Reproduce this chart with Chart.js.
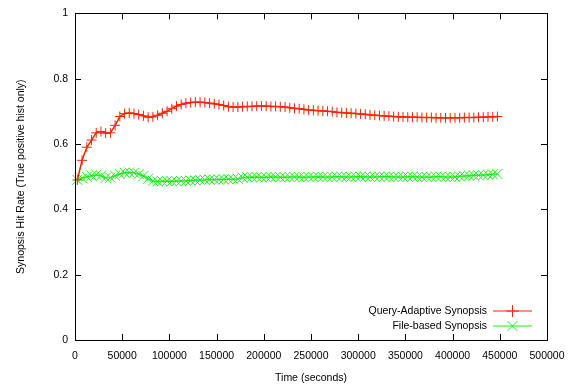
<!DOCTYPE html>
<html>
<head>
<meta charset="utf-8">
<script src="https://cdn.jsdelivr.net/npm/chart.js@4.4.0/dist/chart.umd.min.js"></script>
<style>
  body { margin: 0; background: #fff; }
  canvas { display: block; }
</style>
</head>
<body>
<canvas id="hit-chart" width="579" height="391"></canvas>
<script>
// sample times (seconds)
const times = [
    2500, 7500, 12500, 17500, 22500, 27500, 32500, 37500, 42500, 47500,
    52500, 57500, 62500, 67500, 72500, 77500, 82500, 87500, 92500, 97500,
    102500, 107500, 112500, 117500, 122500, 127500, 132500, 137500, 142500, 147500,
    152500, 157500, 162500, 167500, 172500, 177500, 182500, 187500, 192500, 197500,
    202500, 207500, 212500, 217500, 222500, 227500, 232500, 237500, 242500, 247500,
    252500, 257500, 262500, 267500, 272500, 277500, 282500, 287500, 292500, 297500,
    302500, 307500, 312500, 317500, 322500, 327500, 332500, 337500, 342500, 347500,
    352500, 357500, 362500, 367500, 372500, 377500, 382500, 387500, 392500, 397500,
    402500, 407500, 412500, 417500, 422500, 427500, 432500, 437500, 442500, 447500
];

const queryAdaptive = [
    0.490, 0.550, 0.590, 0.612, 0.634, 0.638, 0.633, 0.634, 0.657, 0.684,
    0.693, 0.695, 0.693, 0.690, 0.686, 0.682, 0.683, 0.688, 0.694, 0.700,
    0.708, 0.716, 0.721, 0.725, 0.727, 0.728, 0.728, 0.727, 0.725, 0.723,
    0.721, 0.718, 0.714, 0.713, 0.713, 0.714, 0.715, 0.715, 0.716, 0.716,
    0.716, 0.715, 0.715, 0.714, 0.713, 0.711, 0.709, 0.708, 0.706, 0.704,
    0.703, 0.702, 0.701, 0.700, 0.699, 0.697, 0.696, 0.695, 0.694, 0.693,
    0.692, 0.691, 0.689, 0.688, 0.687, 0.686, 0.685, 0.684, 0.683, 0.683,
    0.682, 0.682, 0.682, 0.681, 0.681, 0.681, 0.680, 0.680, 0.680, 0.680,
    0.680, 0.680, 0.681, 0.681, 0.681, 0.682, 0.682, 0.683, 0.683, 0.684
];

const fileBased = [
    0.490, 0.495, 0.500, 0.503, 0.506, 0.503, 0.496, 0.497, 0.503, 0.508,
    0.512, 0.513, 0.512, 0.508, 0.502, 0.494, 0.487, 0.485, 0.486, 0.487,
    0.486, 0.486, 0.487, 0.487, 0.488, 0.489, 0.490, 0.490, 0.491, 0.491,
    0.491, 0.492, 0.492, 0.492, 0.493, 0.497, 0.498, 0.498, 0.499, 0.498,
    0.498, 0.499, 0.499, 0.498, 0.498, 0.499, 0.499, 0.499, 0.498, 0.499,
    0.499, 0.500, 0.499, 0.499, 0.499, 0.500, 0.500, 0.499, 0.499, 0.500,
    0.500, 0.500, 0.499, 0.499, 0.500, 0.500, 0.500, 0.499, 0.499, 0.499,
    0.500, 0.500, 0.499, 0.499, 0.499, 0.499, 0.500, 0.500, 0.499, 0.499,
    0.499, 0.501, 0.502, 0.503, 0.504, 0.504, 0.505, 0.506, 0.507, 0.508
];

const seriesNames = ['Query-Adaptive Synopsis', 'File-based Synopsis'];
const xTicks = [0, 50000, 100000, 150000, 200000, 250000, 300000, 350000, 400000, 450000, 500000];
const yTicks = [0, 0.2, 0.4, 0.6, 0.8, 1];

const RED = '#ff2200';
const GREEN = '#1aee1a';
const FONT = '"Liberation Sans", Arial, Helvetica, sans-serif';
const FSIZE = 10.5;

function pts(vals) {
    return vals.map((v, i) => ({x: times[i], y: v}));
}

function marker(ctx, style, x, y, r) {
    ctx.beginPath();
    if (style === 'cross') {
        ctx.moveTo(x - r, y); ctx.lineTo(x + r, y);
        ctx.moveTo(x, y - r); ctx.lineTo(x, y + r);
    } else {
        const d = r * 0.7071;
        ctx.moveTo(x - d, y - d); ctx.lineTo(x + d, y + d);
        ctx.moveTo(x - d, y + d); ctx.lineTo(x + d, y - d);
    }
    ctx.stroke();
}

// gnuplot style frame, inward ticks on all sides, key in the lower right
const framePlugin = {
    id: 'frame',
    afterDraw(chart) {
        const ctx = chart.ctx;
        const a = chart.chartArea;
        const xs = chart.scales.x, ys = chart.scales.y;
        const tl = 6;
        ctx.save();
        ctx.strokeStyle = '#000';
        ctx.lineWidth = 1;
        ctx.strokeRect(Math.round(a.left) + 0.5, Math.round(a.top) + 0.5,
            Math.round(a.right - a.left), Math.round(a.bottom - a.top));
        ctx.beginPath();
        xs.ticks.forEach(t => {
            const px = Math.round(xs.getPixelForValue(t.value)) + 0.5;
            ctx.moveTo(px, a.bottom); ctx.lineTo(px, a.bottom - tl);
            ctx.moveTo(px, a.top); ctx.lineTo(px, a.top + tl);
        });
        ys.ticks.forEach(t => {
            const py = Math.round(ys.getPixelForValue(t.value)) + 0.5;
            ctx.moveTo(a.left, py); ctx.lineTo(a.left + tl, py);
            ctx.moveTo(a.right, py); ctx.lineTo(a.right - tl, py);
        });
        ctx.stroke();

        // key
        const items = [
            {name: seriesNames[0], color: RED, style: 'cross', r: 6},
            {name: seriesNames[1], color: GREEN, style: 'crossRot', r: 7}
        ];
        ctx.font = FSIZE + 'px ' + FONT;
        ctx.textAlign = 'right';
        ctx.textBaseline = 'middle';
        items.forEach((it, i) => {
            const y = 311 + i * 15;
            ctx.fillStyle = '#000';
            ctx.fillText(it.name, 487, y);
            ctx.strokeStyle = it.color;
            ctx.lineWidth = 1;
            ctx.beginPath();
            ctx.moveTo(493, y); ctx.lineTo(532, y);
            ctx.stroke();
            marker(ctx, it.style, 512.5, y, it.r);
        });
        ctx.restore();
    }
};

document.addEventListener('DOMContentLoaded', function(){

    const ctx = document.getElementById('hit-chart').getContext('2d');
    new Chart(ctx, {
        type: 'line',
        data: {
            datasets: [{
                label: seriesNames[0],
                data: pts(queryAdaptive),
                borderColor: RED,
                backgroundColor: RED,
                borderWidth: 1.5,
                pointStyle: 'cross',
                pointRadius: 5,
                pointBorderWidth: 1,
                pointBorderColor: RED,
                fill: false,
                tension: 0,
                clip: false
            }, {
                label: seriesNames[1],
                data: pts(fileBased),
                borderColor: GREEN,
                backgroundColor: GREEN,
                borderWidth: 1.5,
                pointStyle: 'crossRot',
                pointRadius: 7,
                pointBorderWidth: 1,
                pointBorderColor: GREEN,
                fill: false,
                tension: 0,
                clip: false
            }]
        },
        options: {
            responsive: false,
            animation: false,
            events: [],
            layout: { padding: {left: 0, right: 32, top: 7, bottom: 0} },
            plugins: {
                legend: { display: false },
                tooltip: { enabled: false }
            },
            scales: {
                x: {
                    type: 'linear',
                    min: 0,
                    max: 500000,
                    afterBuildTicks: s => { s.ticks = xTicks.map(v => ({value: v})); },
                    afterFit: s => { s.height = 51; },
                    grid: { display: false, drawTicks: false },
                    border: { display: false },
                    ticks: {
                        padding: 10,
                        maxRotation: 0,
                        autoSkip: false,
                        color: '#000',
                        font: { family: FONT, size: FSIZE },
                        callback: v => String(v)
                    },
                    title: {
                        display: true,
                        text: 'Time (seconds)',
                        color: '#000',
                        font: { family: FONT, size: FSIZE },
                        padding: { top: 0, bottom: 7 }
                    }
                },
                y: {
                    min: 0,
                    max: 1,
                    afterBuildTicks: s => { s.ticks = yTicks.map(v => ({value: v})); },
                    afterFit: s => { s.width = 75; },
                    grid: { display: false, drawTicks: false },
                    border: { display: false },
                    ticks: {
                        padding: 7,
                        color: '#000',
                        font: { family: FONT, size: FSIZE },
                        callback: v => String(v)
                    },
                    title: {
                        display: true,
                        text: 'Synopsis Hit Rate (True positive hist only)',
                        color: '#000',
                        font: { family: FONT, size: FSIZE },
                        padding: { top: 15, bottom: 0 }
                    }
                }
            }
        },
        plugins: [framePlugin]
    });

});
</script>
</body>
</html>
